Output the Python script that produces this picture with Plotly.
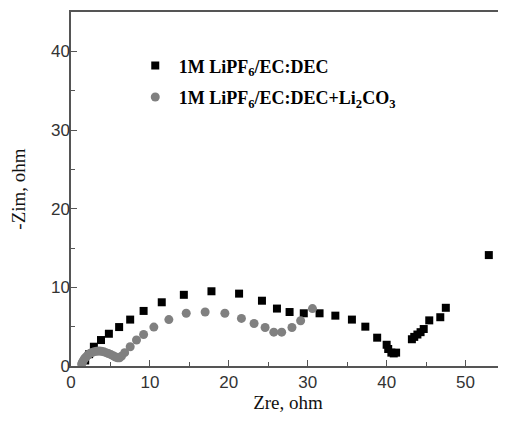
import plotly.graph_objects as go

# Series 1: 1M LiPF6/EC:DEC (black squares)
x1 = [1.8, 2.3, 2.9, 3.8, 4.8, 6.1, 7.5, 9.2, 11.5, 14.3, 17.8, 21.3, 24.2, 26.1, 27.7,
      29.5, 31.5, 33.5, 35.6, 37.3, 38.8, 40.0, 40.2, 40.6, 40.9, 41.2,
      43.2, 43.5, 43.9, 44.3, 44.7, 45.4, 46.8, 47.5, 52.95]
y1 = [0.7, 1.5, 2.45, 3.3, 4.1, 4.95, 5.9, 7.0, 8.1, 9.05, 9.5, 9.2, 8.3, 7.3, 6.86,
      6.7, 6.7, 6.4, 5.9, 5.0, 3.6, 2.7, 2.16, 1.7, 1.6, 1.7,
      3.4, 3.7, 4.0, 4.3, 4.7, 5.8, 6.2, 7.4, 14.1]

# Series 2: 1M LiPF6/EC:DEC+Li2CO3 (grey circles)
x2 = [1.35, 1.45, 1.6, 1.75, 1.95, 2.15, 2.4, 2.65, 2.95, 3.25, 3.55, 3.85, 4.15, 4.45,
      4.75, 5.05, 5.35, 5.65, 5.9, 6.15, 6.4, 6.8, 7.5, 8.3, 9.2, 10.5, 12.4, 14.6,
      17.0, 19.5, 21.6, 23.2, 24.6, 25.7, 26.7, 28.0, 29.1, 30.6]
y2 = [0.25, 0.5, 0.75, 1.0, 1.2, 1.4, 1.6, 1.72, 1.82, 1.88, 1.9, 1.86, 1.8, 1.7,
      1.58, 1.45, 1.3, 1.15, 1.05, 1.05, 1.25, 1.7, 2.45, 3.3, 4.0, 4.95, 5.9, 6.7,
      6.86, 6.7, 6.05, 5.4, 4.9, 4.3, 4.3, 4.9, 5.75, 7.3]

name1 = "1M LiPF<sub>6</sub>/EC:DEC"
name2 = "1M LiPF<sub>6</sub>/EC:DEC+Li<sub>2</sub>CO<sub>3</sub>"

fig = go.Figure()
fig.add_trace(go.Scatter(x=x1, y=y1, mode="markers", name=name1, legendgroup="a",
                         marker=dict(symbol="square", size=8, color="black")))
fig.add_trace(go.Scatter(x=x2, y=y2, mode="markers", name=name2, legendgroup="b",
                         marker=dict(symbol="circle", size=9, color="#808080")))

axis_common = dict(
    showline=True, linecolor="#555555", linewidth=1.5, mirror=True,
    ticks="inside", ticklen=6, tickcolor="#555555", tickwidth=1,
    showgrid=False, zeroline=False, automargin=False,
    tickfont=dict(family="Liberation Sans, Arial", size=17, color="#333333"),
    minor=dict(ticks="inside", ticklen=4, dtick=5, tickcolor="#555555", showgrid=False),
)

# the page body adds an 8px margin, so the figure is sized/positioned to compensate
fig.update_layout(
    width=498, height=415,
    margin=dict(l=63, r=1, t=4, b=57),
    paper_bgcolor="white", plot_bgcolor="white",
    xaxis=dict(range=[0, 55], dtick=10, tick0=0,
               title=dict(text="Zre, ohm", standoff=4,
                          font=dict(family="Liberation Serif, Times New Roman", size=19, color="#111111")),
               **axis_common),
    yaxis=dict(range=[0, 45], dtick=10, tick0=0, ticklabelstandoff=-4,
               title=dict(text="-Zim, ohm", standoff=25,
                          font=dict(family="Liberation Serif, Times New Roman", size=19, color="#111111")),
               **axis_common),
    legend=dict(x=0.14, y=0.90, xanchor="left", yanchor="top", itemwidth=37,
                bgcolor="rgba(0,0,0,0)", traceorder="grouped", tracegroupgap=5,
                font=dict(family="Liberation Serif, Times New Roman", size=18, color="black", weight="bold")),
    showlegend=True,
)

fig.write_html("out.html")
